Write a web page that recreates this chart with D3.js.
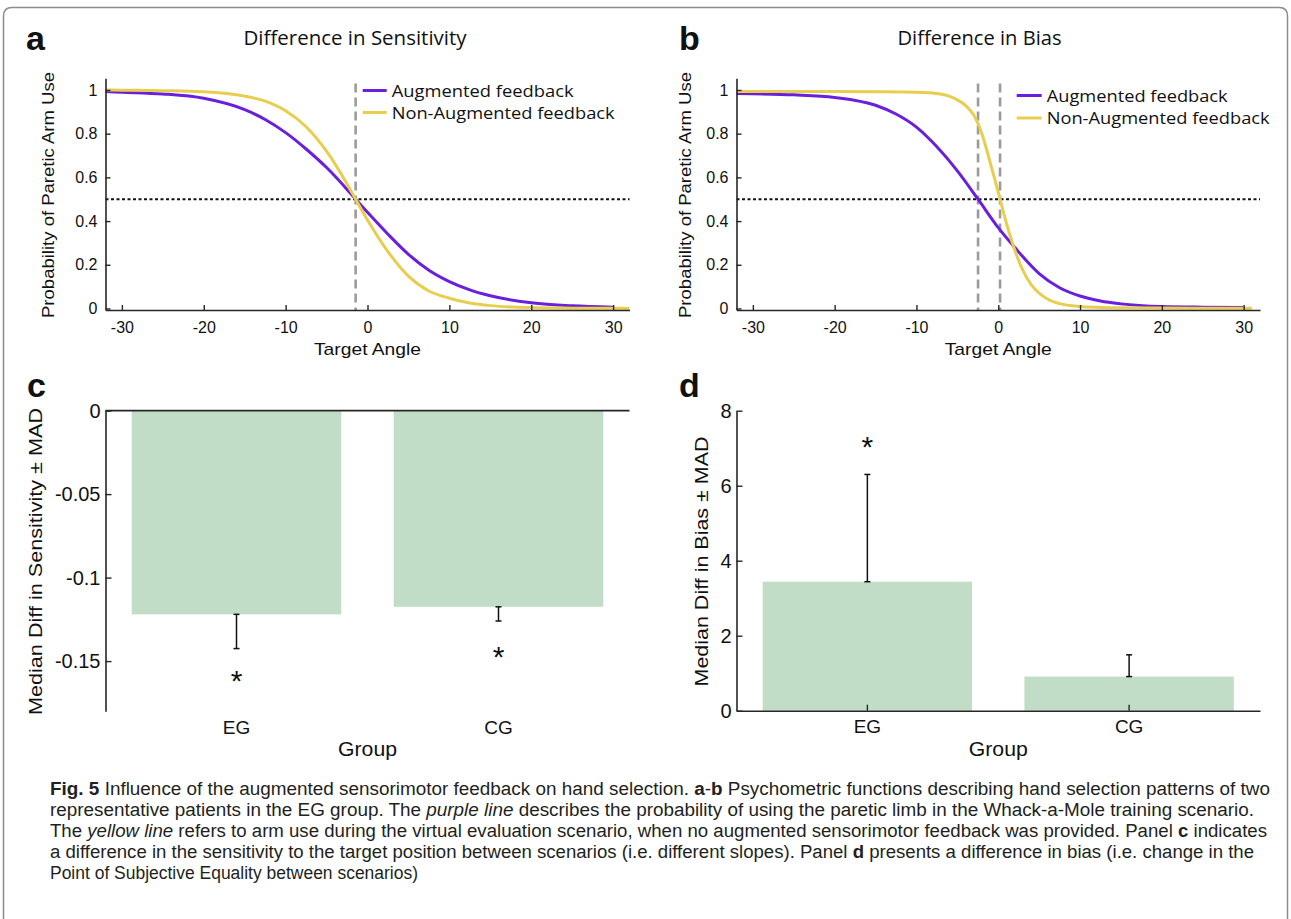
<!DOCTYPE html>
<html>
<head>
<meta charset="utf-8">
<script src="https://cdn.jsdelivr.net/npm/d3@7"></script>
<style>
  body { margin: 0; background: #fff; }
  text { font-family: "Liberation Sans", Arial, Helvetica, sans-serif; fill: #111; }
  text.myriad { font-family: "Open Sans", "Noto Sans", sans-serif; }
  text.caption { font-family: "Liberation Sans Narrow", "Liberation Sans", Arial, sans-serif; }
</style>
</head>
<body>
<div id="chart"></div>
<script>
// ---- data ----
// panel a: difference in sensitivity (target angle -> probability of paretic arm use)
const augA_x = [-32, -30, -25, -20, -15, -12.5, -10, -7.5, -5, -2.5, -1.45, 0, 2.5, 5, 7.5, 10, 12.5, 15, 20, 25, 30];
const augA_y = [0.993, 0.99, 0.982, 0.962, 0.91, 0.865, 0.805, 0.73, 0.645, 0.545, 0.5, 0.44, 0.34, 0.248, 0.175, 0.123, 0.085, 0.058, 0.026, 0.012, 0.006];
const nonA_x = [-32, -30, -25, -20, -15, -12.5, -10, -7.5, -5, -2.5, -1.45, 0, 2.5, 5, 7.5, 10, 12.5, 15, 20, 25, 30, 32];
const nonA_y = [1.0, 0.999, 0.997, 0.992, 0.972, 0.949, 0.905, 0.832, 0.72, 0.57, 0.5, 0.405, 0.26, 0.148, 0.08, 0.047, 0.025, 0.013, 0.004, 0.0015, 0.0006, 0.0004];
const pseA = [-1.45];

// panel b: difference in bias
const augB_x = [-32, -30, -25, -20, -15, -12.5, -10, -7.5, -5, -2.47, 0, 2, 5, 7.5, 10, 12.5, 15, 20, 25, 30];
const augB_y = [0.984, 0.983, 0.978, 0.966, 0.93, 0.89, 0.83, 0.74, 0.63, 0.5, 0.37, 0.28, 0.16, 0.095, 0.057, 0.034, 0.021, 0.009, 0.006, 0.005];
const nonB_x = [-32, -30, -20, -15, -10, -8, -6, -5, -4, -3, -2, -1, 0, 1, 2, 3, 4, 5, 6, 7.5, 10, 12.5, 15, 20, 25, 31];
const nonB_y = [0.993, 0.993, 0.993, 0.992, 0.99, 0.986, 0.972, 0.955, 0.93, 0.885, 0.8, 0.67, 0.533, 0.39, 0.27, 0.175, 0.11, 0.07, 0.043, 0.022, 0.009, 0.005, 0.003, 0.002, 0.001, 0.001];
const pseB = [-2.47, 0.22];

const angleTicks = [-30, -20, -10, 0, 10, 20, 30];
const probTicks = [0, 0.2, 0.4, 0.6, 0.8, 1];

// panels c, d: group medians +- MAD
const groups = ["EG", "CG"];
const sensMedian = [-0.122, -0.1175];
const sensMad = [0.0205, 0.0085];
const sensStar = [-0.1575, -0.1435];
const sensTicks = [-0.15, -0.1, -0.05, 0];
const biasMedian = [3.44, 0.91];
const biasMad = [2.86, 0.58];
const biasStar = [7.22, null];
const biasTicks = [0, 2, 4, 6, 8];

const legendLabels = ["Augmented feedback", "Non-Augmented feedback"];

// ---- drawing ----
const width = 1291, height = 919;
const purple = "#6a1fdc", yellow = "#e8ce4e", barColor = "#c2ddc7", axisColor = "#262626";

const svg = d3.select("#chart").append("svg")
  .attr("width", width).attr("height", height);

// outer frame with rounded top corners
svg.append("path")
  .attr("d", "M3.5,919 V16 Q3.5,7.5 12,7.5 H1279 Q1287.5,7.5 1287.5,16 V919")
  .attr("fill", "none").attr("stroke", "#8c8c8c").attr("stroke-width", 1.5);

function fit(sel, len) {
  return sel.attr("textLength", len).attr("lengthAdjust", "spacingAndGlyphs");
}

function styleAxis(g) {
  g.select(".domain").attr("stroke", axisColor).attr("stroke-width", 1.6);
  g.selectAll(".tick line").attr("stroke", axisColor).attr("stroke-width", 1.4);
  g.selectAll(".tick text").attr("fill", "#111");
}

function letter(t, x, y) {
  svg.append("text").attr("x", x).attr("y", y)
    .style("font-size", "34px").style("font-weight", "bold").text(t);
}

function psyPanel(cfg) {
  const x = d3.scaleLinear().domain([-32, 32]).range([cfg.x0, cfg.x1]);
  const y = d3.scaleLinear().domain([-0.007, 1.054]).range([310, 78.2]);
  const g = svg.append("g");

  // reference lines
  g.append("line")
    .attr("x1", x(-32)).attr("x2", x(32)).attr("y1", y(0.5)).attr("y2", y(0.5))
    .attr("stroke", "#111").attr("stroke-width", 2).attr("stroke-dasharray", "3,2.5");
  g.selectAll(".pse").data(cfg.pse).enter().append("line")
    .attr("x1", d => x(d)).attr("x2", d => x(d))
    .attr("y1", y(1.03)).attr("y2", y(-0.007))
    .attr("stroke", "#9b9b9b").attr("stroke-width", 2.6).attr("stroke-dasharray", "9,5");

  const line = d3.line().x(d => x(d[0])).y(d => y(d[1])).curve(d3.curveMonotoneX);
  cfg.series.forEach(s => {
    g.append("path")
      .datum(s.xs.map((v, i) => [v, s.ys[i]]))
      .attr("d", line)
      .attr("fill", "none").attr("stroke", s.color).attr("stroke-width", 3);
  });

  // axes, ticks inward as in MATLAB
  const ax = g.append("g").attr("transform", `translate(0,${y(-0.007)})`)
    .call(d3.axisBottom(x).tickValues(angleTicks).tickSize(-5).tickSizeOuter(0).tickPadding(12)
      .tickFormat(d => String(d)));
  ax.selectAll("text").style("font-size", "16px");
  styleAxis(ax);
  const ay = g.append("g").attr("transform", `translate(${cfg.x0},0)`)
    .call(d3.axisLeft(y).tickValues(probTicks).tickSize(-5).tickSizeOuter(0).tickPadding(8)
      .tickFormat(d => String(d)));
  ay.selectAll("text").style("font-size", "16px");
  styleAxis(ay);

  fit(g.append("text").attr("x", (cfg.x0 + cfg.x1) / 2).attr("y", 355)
    .attr("text-anchor", "middle").style("font-size", "17px").text("Target Angle"), 107);
  fit(g.append("text").attr("transform", `translate(${cfg.yLabelX},195) rotate(-90)`)
    .attr("text-anchor", "middle").style("font-size", "17px").text("Probability of Paretic Arm Use"), 246);

  fit(g.append("text").attr("class", "myriad").attr("x", cfg.titleX).attr("y", 45)
    .attr("text-anchor", "middle").style("font-size", "20px").text(cfg.title), cfg.titleW);

  // legend
  cfg.series.forEach((s, i) => {
    const ly = cfg.legY[i];
    g.append("line").attr("x1", cfg.legX[0]).attr("x2", cfg.legX[1])
      .attr("y1", ly).attr("y2", ly).attr("stroke", s.color).attr("stroke-width", 3);
    fit(g.append("text").attr("class", "myriad").attr("x", cfg.legX[1] + 5).attr("y", ly + 6)
      .style("font-size", "17px").text(legendLabels[i]), cfg.legW[i]);
  });
}

psyPanel({
  x0: 105.5, x1: 629.5, yLabelX: 54, pse: pseA,
  title: "Difference in Sensitivity", titleX: 355, titleW: 223,
  legX: [362.7, 386.7], legY: [90.5, 112.5], legW: [182, 223],
  series: [
    { xs: augA_x, ys: augA_y, color: purple },
    { xs: nonA_x, ys: nonA_y, color: yellow }
  ]
});
psyPanel({
  x0: 736.5, x1: 1260, yLabelX: 691, pse: pseB,
  title: "Difference in Bias", titleX: 979.5, titleW: 164,
  legX: [1016.7, 1041.7], legY: [95.5, 118], legW: [181, 223],
  series: [
    { xs: augB_x, ys: augB_y, color: purple },
    { xs: nonB_x, ys: nonB_y, color: yellow }
  ]
});

function barPanel(cfg) {
  const x = d3.scaleBand().domain(groups).range([cfg.x0, cfg.x1]).paddingInner(0.2).paddingOuter(0.1);
  const y = d3.scaleLinear().domain(cfg.domain).range(cfg.yRange);
  const g = svg.append("g");
  const zero = y(0);

  g.selectAll(".bar").data(groups).enter().append("rect")
    .attr("x", d => x(d))
    .attr("width", x.bandwidth())
    .attr("y", (d, i) => Math.min(zero, y(cfg.median[i])))
    .attr("height", (d, i) => Math.abs(y(cfg.median[i]) - zero))
    .attr("fill", barColor);

  // one-sided error bars pointing away from zero
  groups.forEach((d, i) => {
    const cx = x(d) + x.bandwidth() / 2;
    const m = cfg.median[i];
    const end = m + Math.sign(m) * cfg.mad[i];
    g.append("line").attr("x1", cx).attr("x2", cx).attr("y1", y(m)).attr("y2", y(end))
      .attr("stroke", "#111").attr("stroke-width", 1.5);
    [m, end].forEach(v => {
      g.append("line").attr("x1", cx - 3).attr("x2", cx + 3).attr("y1", y(v)).attr("y2", y(v))
        .attr("stroke", "#111").attr("stroke-width", 1.5);
    });
    if (cfg.star[i] != null) {
      g.append("text").attr("x", cx).attr("y", y(cfg.star[i]) + 17)
        .attr("text-anchor", "middle").style("font-size", "30px").text("*");
    }
  });

  // y axis
  const ay = g.append("g").attr("transform", `translate(${cfg.x0},0)`)
    .call(d3.axisLeft(y).tickValues(cfg.ticks).tickSize(-6).tickSizeOuter(0).tickPadding(5)
      .tickFormat(d => String(d)));
  ay.selectAll("text").style("font-size", "20px");
  styleAxis(ay);

  // x axis: drawn at zero; labels at the bottom
  const axBase = y(cfg.domain[0]);
  if (cfg.domain[0] === 0) {
    const ax = g.append("g").attr("transform", `translate(0,${zero})`)
      .call(d3.axisBottom(x).tickSize(-6).tickSizeOuter(0).tickPadding(9));
    ax.selectAll("text").style("font-size", "19px");
    styleAxis(ax);
  } else {
    g.append("line").attr("x1", cfg.x0).attr("x2", cfg.x1).attr("y1", zero).attr("y2", zero)
      .attr("stroke", axisColor).attr("stroke-width", 1.6);
    const ax = g.append("g").attr("transform", `translate(0,${axBase})`)
      .call(d3.axisBottom(x).tickSize(0).tickPadding(9));
    ax.select(".domain").remove();
    ax.selectAll("text").style("font-size", "19px").attr("fill", "#111");
  }

  fit(g.append("text").attr("x", (cfg.x0 + cfg.x1) / 2).attr("y", 756)
    .attr("text-anchor", "middle").style("font-size", "20px").text("Group"), 59);
  fit(g.append("text").attr("transform", `translate(${cfg.yLabelX},561.5) rotate(-90)`)
    .attr("text-anchor", "middle").style("font-size", "19px").text(cfg.yLabel), cfg.yLabelW);
}

barPanel({
  x0: 105.5, x1: 629.5, domain: [-0.18, 0], yRange: [711.2, 410.6],
  median: sensMedian, mad: sensMad, star: sensStar, ticks: sensTicks,
  yLabel: "Median Diff in Sensitivity \u00b1 MAD", yLabelX: 42, yLabelW: 307
});
barPanel({
  x0: 736.5, x1: 1260, domain: [0, 8], yRange: [710.7, 410.7],
  median: biasMedian, mad: biasMad, star: biasStar, ticks: biasTicks,
  yLabel: "Median Diff in Bias \u00b1 MAD", yLabelX: 708, yLabelW: 250
});

letter("a", 26, 50);
letter("b", 679, 50);
letter("c", 27, 397);
letter("d", 679, 397);

// caption
const captionLines = [
  [["Fig. 5", "b"], [" Influence of the augmented sensorimotor feedback on hand selection. "], ["a", "b"], ["-"], ["b", "b"], [" Psychometric functions describing hand selection patterns of two"]],
  [["representative patients in the EG group. The "], ["purple line", "i"], [" describes the probability of using the paretic limb in the Whack-a-Mole training scenario."]],
  [["The "], ["yellow line", "i"], [" refers to arm use during the virtual evaluation scenario, when no augmented sensorimotor feedback was provided. Panel "], ["c", "b"], [" indicates"]],
  [["a difference in the sensitivity to the target position between scenarios (i.e. different slopes). Panel "], ["d", "b"], [" presents a difference in bias (i.e. change in the"]],
  [["Point of Subjective Equality between scenarios)"]]
];
const captionWidths = [1220, 1204, 1217, 1204, 368];
captionLines.forEach((segs, i) => {
  const t = svg.append("text").attr("class", "caption").attr("x", 50).attr("y", 795 + i * 21)
    .style("font-size", "18px").style("fill", "#231f20");
  segs.forEach(s => {
    const sp = t.append("tspan").text(s[0]);
    if (s[1] === "b") sp.style("font-weight", "bold");
    if (s[1] === "i") sp.style("font-style", "italic");
  });
  fit(t, captionWidths[i]);
});
</script>
</body>
</html>
